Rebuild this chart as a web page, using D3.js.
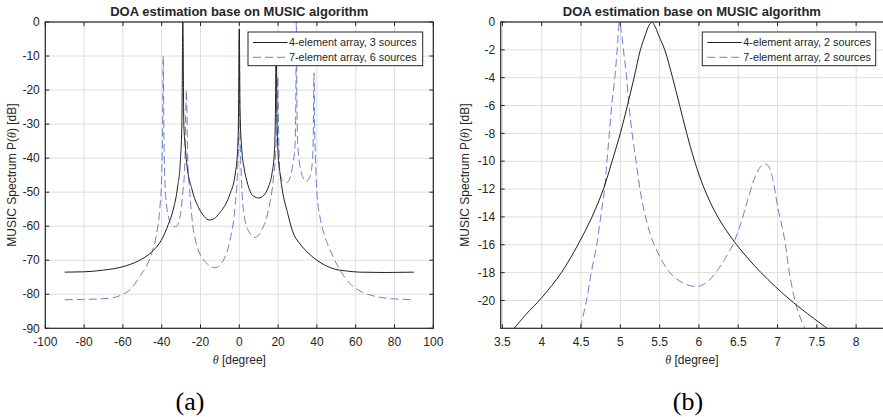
<!DOCTYPE html>
<html>
<head>
<meta charset="utf-8">
<script src="https://cdn.jsdelivr.net/npm/d3@7"></script>
<style>
  body { margin: 0; background: #fff; }
  text { font-family: "Liberation Sans", Arial, Helvetica, sans-serif; fill: #262626; }
</style>
</head>
<body>
<div id="vizcontainer"></div>
<script>
const width = 883, height = 417;

// ---- panel (a): full scan, theta in degrees / spectrum in dB ----
const thetaA4 = [-90, -80, -70, -60, -52, -46, -42.5, -39.7, -36.6, -34, -31.8, -30.4, -29.6, -29.1, -28.6, -27.8, -27.1,
  -24.5, -21, -18, -15.5, -13, -10, -7, -4.8, -2.2, -0.9, -0.35, 0, 0.35, 1.1, 2.5, 3.8, 6, 8, 10, 12.5, 15, 17,
  18, 18.6, 19, 19.4, 20.1, 21, 22.5, 24.4, 27.8, 31, 34, 40, 48.5, 56, 62, 75, 90];
const specA4 = [-73.5, -73.4, -72.9, -71.9, -70.2, -68, -66, -63.6, -59.5, -55, -48.5, -41, -30, 0, -30, -37, -41.5,
  -49, -54.5, -57.2, -58.2, -57.8, -56, -53.5, -50.5, -45, -38, -25, -2, -25, -36, -43, -46.5, -50.3, -51.4, -51.7, -51, -48.5, -44,
  -39, -28, -5, -28, -39.6, -44.5, -50.5, -55, -62, -65, -67, -70, -72.5, -73.2, -73.5, -73.6, -73.5];

const thetaA7 = [-90, -80, -70, -65, -60, -56, -53.8, -50.5, -48.6, -45.2, -42.6, -41, -40, -39.5, -39.2, -38.9, -38.5,
  -37.4, -34.8, -32.8, -30.6, -29.1, -28.1, -27.3, -26.6, -25.8, -24.5, -21.1, -16.8, -12.5, -8.2, -4.8, -2.2, -0.8, -0.3, 0,
  0.3, 1.2, 2.6, 5.5, 8.1, 11.5, 15, 17.5, 18.7, 19.4, 19.8, 20.2, 21, 22.7, 24.5, 26.3, 27.8, 28.7, 29.1, 29.4, 29.7,
  30.2, 32.1, 34.3, 36.4, 37.8, 38.2, 38.5, 38.8, 39.3, 39.9, 41.6, 44.2, 47.6, 51.9, 57.1, 63.1, 70, 78.6, 90];
const specA7 = [-81.6, -81.5, -81.3, -81, -80, -78.5, -76.9, -74, -72.5, -68, -62.1, -55, -45, -30, -10, -30, -44.5,
  -54.3, -59.7, -60.2, -57.3, -50, -42, -20, -40, -48, -57, -67, -70.9, -72.2, -70, -64.1, -54.3, -42.5, -30, -2.5,
  -30, -47.5, -57.3, -62.1, -63.3, -61.2, -55.3, -46.5, -38.7, -30, -16, -30, -44.5, -46.8, -47.2, -45.5, -41, -36.6, -25, 0, -25,
  -36.6, -44.5, -46.8, -45.5, -40, -30, -15, -30, -40.6, -49.4, -57.3, -63.1, -68, -72.9, -76.9, -79.3, -80.6, -81.3, -81.6];

// ---- panel (b): zoom around 5..7 degrees ----
const thetaB4 = [3.65, 3.8, 4.0, 4.25, 4.46, 4.64, 4.785, 4.895, 5.0, 5.09, 5.175, 5.255, 5.32, 5.36, 5.4, 5.44, 5.49,
  5.565, 5.665, 5.755, 5.845, 5.945, 6.07, 6.24, 6.48, 6.79, 7.17, 7.63];
const specB4 = [-22, -21, -19.8, -18, -16, -14, -12, -10, -8, -6, -4, -2, -0.9, -0.3, 0, -0.3, -1,
  -2, -4, -6, -8, -10, -12, -14, -16, -18, -20, -22];

const thetaB7 = [4.49, 4.57, 4.63, 4.70, 4.75, 4.80, 4.83, 4.86, 4.89, 4.93, 4.96, 4.99, 5.02, 5.04, 5.08, 5.11, 5.15,
  5.2, 5.25, 5.32, 5.43, 5.63, 5.8, 5.97, 6.1, 6.2, 6.3, 6.43, 6.52, 6.62, 6.73, 6.8, 6.85, 6.9, 6.94, 7.0, 7.09,
  7.15, 7.24, 7.33, 7.35];
const specB7 = [-22, -20, -18, -16, -14, -12, -10, -8, -6, -4, -2, 0, -1, -2, -4, -6, -8,
  -10, -12, -14, -16, -18, -18.75, -19, -18.7, -18.1, -17.3, -16, -14.7, -12.8, -10.9, -10.3, -10.2, -10.5, -11.3, -13.2, -15.6,
  -18, -20.4, -21.8, -22];

const xTicksA = d3.range(-100, 101, 20);
const yTicksA = d3.range(-90, 1, 10);
const xTicksB = [3.5, 4, 4.5, 5, 5.5, 6, 6.5, 7, 7.5, 8];
const yTicksB = d3.range(-20, 1, 2);

const titleText = 'DOA estimation base on MUSIC algorithm';
const legendA = ['4-element array, 3 sources', '7-element array, 6 sources'];
const legendB = ['4-element array, 2 sources', '7-element array, 2 sources'];

const black = '#1f1f1f', blue = '#5a72cc', gridColor = '#dedede', axisColor = '#262626';

let viz = d3.select('#vizcontainer')
  .append('svg')
  .attr('width', width)
  .attr('height', height);

function drawPanel(p) {
  const x = d3.scaleLinear().domain(p.xDomain).range(p.xRange);
  const y = d3.scaleLinear().domain(p.yDomain).range([328.3, 22]);
  const g = viz.append('g');
  const [x0, x1] = p.xRange;
  const y0 = 22, y1 = 328.3;

  g.append('clipPath').attr('id', p.id)
    .append('rect').attr('x', x0).attr('y', y0).attr('width', x1 - x0).attr('height', y1 - y0);

  // grid
  g.append('g').selectAll('line').data(p.xTicks).join('line')
    .attr('x1', d => x(d)).attr('x2', d => x(d)).attr('y1', y0).attr('y2', y1)
    .attr('stroke', gridColor).attr('stroke-width', 1);
  g.append('g').selectAll('line').data(p.yTicks).join('line')
    .attr('x1', x0).attr('x2', x1).attr('y1', d => y(d)).attr('y2', d => y(d))
    .attr('stroke', gridColor).attr('stroke-width', 1);

  // curves
  const line = d3.line().x(d => x(d[0])).y(d => y(d[1])).curve(p.curve);
  const curves = g.append('g').attr('clip-path', `url(#${p.id})`);
  curves.append('path').datum(d3.zip(p.t7, p.s7))
    .attr('fill', 'none').attr('stroke', blue).attr('stroke-width', 0.9)
    .attr('stroke-dasharray', '8,4').attr('d', line);
  curves.append('path').datum(d3.zip(p.t4, p.s4))
    .attr('fill', 'none').attr('stroke', black).attr('stroke-width', 1).attr('d', line);

  // box + inward ticks
  g.append('rect').attr('x', x0).attr('y', y0).attr('width', x1 - x0).attr('height', y1 - y0)
    .attr('fill', 'none').attr('stroke', axisColor).attr('stroke-width', 1.2);
  const tl = 4;
  g.append('g').selectAll('path').data(p.xTicks).join('path')
    .attr('d', d => `M${x(d)},${y1}v${-tl}M${x(d)},${y0}v${tl}`)
    .attr('stroke', axisColor).attr('stroke-width', 1);
  g.append('g').selectAll('path').data(p.yTicks).join('path')
    .attr('d', d => `M${x0},${y(d)}h${tl}M${x1},${y(d)}h${-tl}`)
    .attr('stroke', axisColor).attr('stroke-width', 1);

  // tick labels
  g.append('g').selectAll('text').data(p.xTicks).join('text')
    .attr('x', d => x(d)).attr('y', 345.5).attr('text-anchor', 'middle')
    .style('font-size', '12px').text(d => d);
  g.append('g').selectAll('text').data(p.yTicks).join('text')
    .attr('x', x0 - 5.5).attr('y', d => y(d) + 4.2).attr('text-anchor', 'end')
    .style('font-size', '12px').text(d => d);

  // title and axis labels
  const cx = (x0 + Math.min(x1, width)) / 2;
  g.append('text').attr('x', cx).attr('y', 15.5).attr('text-anchor', 'middle')
    .style('font-size', '13px').style('font-weight', 'bold').text(titleText);

  const xl = g.append('text').attr('x', cx).attr('y', 363.5).attr('text-anchor', 'middle').style('font-size', '12px');
  xl.append('tspan').style('font-style', 'italic').style('font-family', '"Liberation Serif", serif').text('θ');
  xl.append('tspan').text(' [degree]');

  const yl = g.append('text')
    .attr('transform', `translate(${p.yLabelX},175) rotate(-90)`)
    .attr('text-anchor', 'middle').style('font-size', '12px');
  yl.append('tspan').text('MUSIC Spectrum P(');
  yl.append('tspan').style('font-style', 'italic').style('font-family', '"Liberation Serif", serif').text('θ');
  yl.append('tspan').text(') [dB]');

  // legend
  const L = p.legend;
  const lg = g.append('g');
  lg.append('rect').attr('x', L.x).attr('y', 32).attr('width', L.w).attr('height', 33.7)
    .attr('fill', '#fff').attr('stroke', axisColor).attr('stroke-width', 1);
  [42.5, 57.3].forEach((ly, i) => {
    lg.append('line').attr('x1', L.x + 5).attr('x2', L.x + 39.5).attr('y1', ly).attr('y2', ly)
      .attr('stroke', i === 0 ? black : blue).attr('stroke-width', i === 0 ? 1 : 0.9)
      .attr('stroke-dasharray', i === 0 ? null : '8,4');
    lg.append('text').attr('x', L.x + 41).attr('y', ly + 3.8)
      .style('font-size', '10.8px').text(L.labels[i]);
  });

  // sub-caption
  viz.append('text').attr('x', p.capX).attr('y', 410).attr('text-anchor', 'middle')
    .style('font-family', '"Liberation Serif", "Times New Roman", serif').style('font-size', '26px')
    .style('fill', '#000').text(p.caption);
}

drawPanel({
  id: 'clipA', xDomain: [-100, 100], xRange: [45.3, 433.3], yDomain: [-90, 0],
  xTicks: xTicksA, yTicks: yTicksA, t4: thetaA4, s4: specA4, t7: thetaA7, s7: specA7,
  curve: d3.curveMonotoneX,
  yLabelX: 16, legend: { x: 248, w: 174.7, labels: legendA }, capX: 190, caption: '(a)'
});

drawPanel({
  id: 'clipB', xDomain: [3.478, 8.4], xRange: [500.7, 500.7 + 4.922 * 78.6], yDomain: [-22, 0],
  xTicks: xTicksB, yTicks: yTicksB, t4: thetaB4, s4: specB4, t7: thetaB7, s7: specB7,
  curve: d3.curveCatmullRom.alpha(0.5),
  yLabelX: 469, legend: { x: 702.3, w: 173.4, labels: legendB }, capX: 688, caption: '(b)'
});
</script>
</body>
</html>
